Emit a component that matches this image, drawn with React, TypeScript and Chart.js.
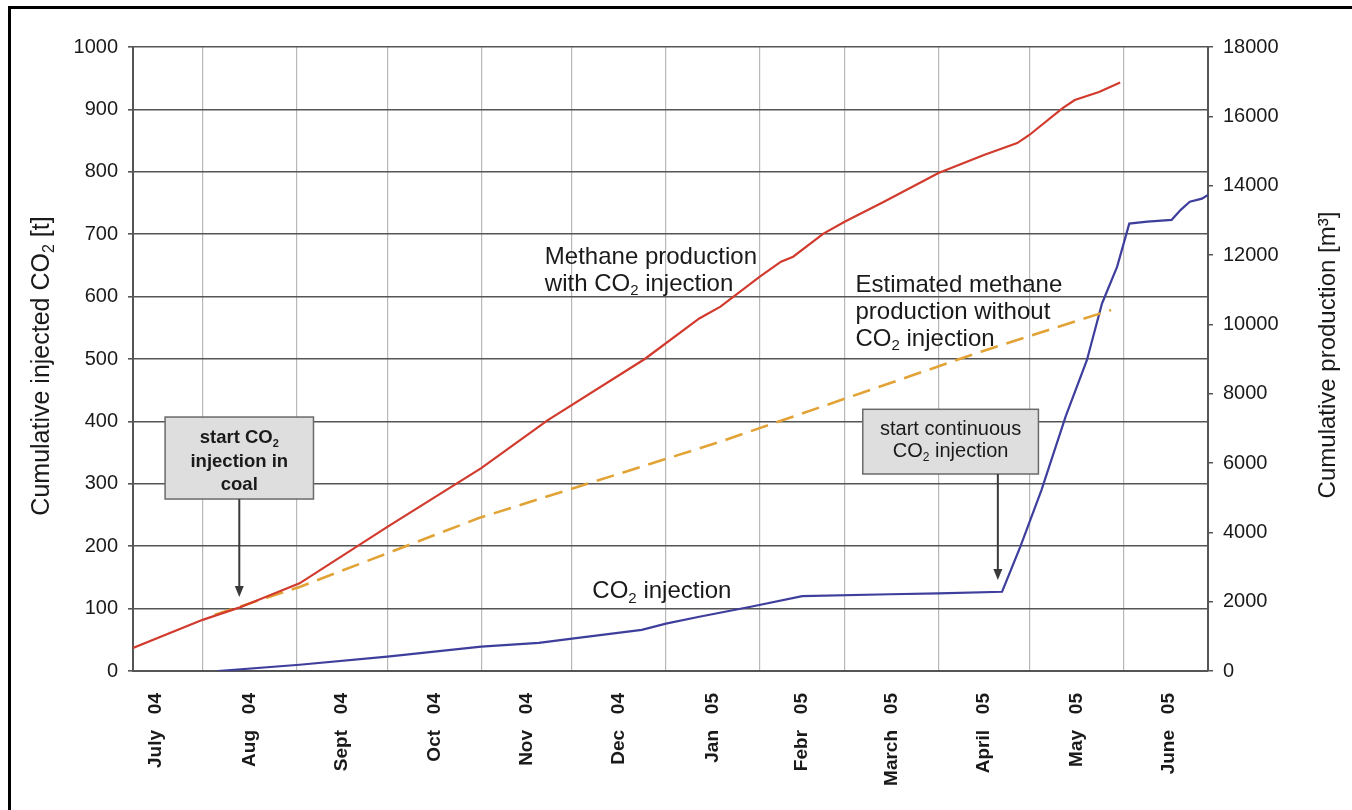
import React, { useEffect, useRef } from "react";
import { Chart, registerables } from "chart.js";

Chart.register(...registerables);

const FONT = '"Liberation Sans", Arial, Helvetica, sans-serif';

// x values are days counted from 1 July 2004
const monthStartDays = [0, 31, 62, 92, 123, 153, 184, 215, 243, 274, 304, 335, 365];
const monthNames = ["July", "Aug", "Sept", "Oct", "Nov", "Dec", "Jan", "Febr", "March", "April", "May", "June"];
const yearNames = ["04", "04", "04", "04", "04", "04", "05", "05", "05", "05", "05", "05"];
const xMinDay = 8;
const xMaxDay = 363;

const leftMax = 1000;
const leftStep = 100;
const rightMax = 18000;
const rightStep = 2000;

// Methane production with CO2 injection [m3] (right axis)
const methaneDays = [8, 31, 43, 63, 92, 123, 145, 177, 195, 202, 215, 222, 226, 236, 243, 256, 274, 289, 300, 304, 315, 319, 327, 334];
const methaneM3 = [666, 1476, 1827, 2529, 4158, 5850, 7236, 9000, 10170, 10510, 11376, 11808, 11952, 12618, 12960, 13536, 14364, 14886, 15228, 15462, 16236, 16470, 16704, 16974];

// Estimated methane production without CO2 injection [m3] (right axis)
const estimateDays = [35, 63, 122, 202, 288, 331];
const estimateM3 = [1620, 2423, 4405, 6615, 9211, 10413];

// Cumulative injected CO2 [t] (left axis)
const co2Days = [36, 63, 92, 123, 142, 153, 176, 184, 195, 212, 229, 258, 274, 295, 301, 308, 316, 323, 328, 333, 337, 343, 351, 354, 357, 361, 363];
const co2Tonnes = [0, 10, 23, 39, 45, 52, 66, 76, 87, 103, 120, 123, 124.5, 127, 199, 290, 408, 498, 589, 648, 717, 720, 723, 739, 752, 757, 763];

// annotation texts ({2} = subscript)
const textNotes = [
  { x: 144, y: 653, lines: ["Methane production", "with CO{2} injection"] },
  { x: 246.6, y: 608, lines: ["Estimated methane", "production without", "CO{2} injection"] },
  { x: 159.7, y: 117, lines: ["CO{2} injection"] },
];

const boxNotes = [
  { x1: 18.6, x2: 67.6, yTop: 407, yBottom: 275.6, arrowX: 43.1, arrowTip: 118.6, lines: ["start CO{2}", "injection in", "coal"], weight: "bold", size: 18.5, first: 26, gap: 23.5 },
  { x1: 249, x2: 307, yTop: 419.4, yBottom: 315.7, arrowX: 293.6, arrowTip: 145.8, lines: ["start continuous", "CO{2} injection"], weight: "normal", size: 20, first: 26, gap: 22 },
];

type Seg = { t: string; sub: boolean };
function parseRich(s: string): Seg[] {
  const parts = s.split(/\{(\d)\}/);
  return parts.map((t, i) => ({ t, sub: i % 2 === 1 })).filter((p) => p.t.length > 0);
}

function drawRich(ctx: CanvasRenderingContext2D, text: string, x: number, y: number, size: number, weight: string, align: "left" | "center") {
  const segs = parseRich(text);
  const base = `${weight} ${size}px ${FONT}`;
  const small = `${weight} ${Math.round(size * 0.62)}px ${FONT}`;
  const widths = segs.map((s) => {
    ctx.font = s.sub ? small : base;
    return ctx.measureText(s.t).width;
  });
  const total = widths.reduce((a, b) => a + b, 0);
  let cx = align === "center" ? x - total / 2 : x;
  ctx.textAlign = "left";
  ctx.textBaseline = "alphabetic";
  segs.forEach((s, i) => {
    ctx.font = s.sub ? small : base;
    ctx.fillText(s.t, cx, s.sub ? y + size * 0.2 : y);
    cx += widths[i];
  });
}

const tickLabelMap = new Map<number, string>();
const tickValues: number[] = [];
monthStartDays.forEach((d, i) => {
  if (d > xMinDay && d < xMaxDay + 0.5) tickValues.push(d);
  if (i < monthNames.length) {
    const mid = (d + monthStartDays[i + 1]) / 2;
    tickValues.push(mid);
    tickLabelMap.set(mid, `${monthNames[i]}   ${yearNames[i]}`);
  }
});
tickValues.sort((a, b) => a - b);

const annotationPlugin = {
  id: "annotations",
  beforeDraw(chart: any) {
    const ctx: CanvasRenderingContext2D = chart.ctx;
    ctx.save();
    ctx.fillStyle = "#ffffff";
    ctx.fillRect(0, 0, chart.width, chart.height);
    ctx.fillStyle = "#000000";
    ctx.fillRect(8, 6, chart.width, 3);
    ctx.fillRect(8, 6, 3, chart.height);
    ctx.restore();
  },
  afterDatasetsDraw(chart: any) {
    const ctx: CanvasRenderingContext2D = chart.ctx;
    const xs = chart.scales.x;
    const ys = chart.scales.y;
    const area = chart.chartArea;
    ctx.save();
    ctx.fillStyle = "#1a1a1a";
    textNotes.forEach((n) => {
      const px = xs.getPixelForValue(n.x);
      const py = ys.getPixelForValue(n.y);
      n.lines.forEach((l, i) => drawRich(ctx, l, px, py + i * 27, 24, "normal", "left"));
    });
    boxNotes.forEach((b) => {
      const left = xs.getPixelForValue(b.x1);
      const right = xs.getPixelForValue(b.x2);
      const top = ys.getPixelForValue(b.yTop);
      const bottom = ys.getPixelForValue(b.yBottom);
      ctx.fillStyle = "#dedede";
      ctx.fillRect(left, top, right - left, bottom - top);
      ctx.strokeStyle = "#6a6a6a";
      ctx.lineWidth = 1.5;
      ctx.strokeRect(left, top, right - left, bottom - top);
      ctx.fillStyle = "#1a1a1a";
      const cx = (left + right) / 2;
      b.lines.forEach((l, i) => drawRich(ctx, l, cx, top + b.first + i * b.gap, b.size, b.weight, "center"));
      const ax = xs.getPixelForValue(b.arrowX);
      const tip = ys.getPixelForValue(b.arrowTip);
      ctx.strokeStyle = "#3a3a3a";
      ctx.lineWidth = 2;
      ctx.beginPath();
      ctx.moveTo(ax, bottom);
      ctx.lineTo(ax, tip - 9);
      ctx.stroke();
      ctx.fillStyle = "#3a3a3a";
      ctx.beginPath();
      ctx.moveTo(ax - 4.5, tip - 11);
      ctx.lineTo(ax + 4.5, tip - 11);
      ctx.lineTo(ax, tip);
      ctx.closePath();
      ctx.fill();
    });
    // axis titles
    ctx.fillStyle = "#1a1a1a";
    ctx.save();
    ctx.translate(40, (area.top + area.bottom) / 2 + 7);
    ctx.rotate(-Math.PI / 2);
    drawRich(ctx, "Cumulative injected CO{2} [t]", 0, 9, 25, "normal", "center");
    ctx.restore();
    ctx.save();
    ctx.translate(1327, (area.top + area.bottom) / 2 - 4);
    ctx.rotate(-Math.PI / 2);
    drawRich(ctx, "Cumulative production [m\u00b3]", 0, 8, 24, "normal", "center");
    ctx.restore();
    ctx.restore();
  },
};

export default function App() {
  const ref = useRef<HTMLCanvasElement | null>(null);
  useEffect(() => {
    if (!ref.current) return;
    const tickFont = { family: FONT, size: 20 };
    const plain = (v: any) => String(v);
    const chart = new Chart(ref.current, {
      type: "line",
      data: {
        datasets: [
          {
            label: "Methane production with CO2 injection",
            data: methaneDays.map((d, i) => ({ x: d, y: methaneM3[i] })),
            yAxisID: "yR",
            borderColor: "#d13a2c",
            borderWidth: 2.2,
            pointRadius: 0,
            tension: 0,
          },
          {
            label: "Estimated methane production without CO2 injection",
            data: estimateDays.map((d, i) => ({ x: d, y: estimateM3[i] })),
            yAxisID: "yR",
            borderColor: "#e2a336",
            borderDash: [18, 9],
            borderWidth: 2.6,
            pointRadius: 0,
            tension: 0,
          },
          {
            label: "CO2 injection",
            data: co2Days.map((d, i) => ({ x: d, y: co2Tonnes[i] })),
            yAxisID: "y",
            borderColor: "#3e3e9c",
            borderWidth: 2.2,
            pointRadius: 0,
            tension: 0,
          },
        ],
      },
      options: {
        animation: false,
        responsive: false,
        layout: { padding: { top: 47, left: 0, right: 0, bottom: 0 } },
        plugins: { legend: { display: false }, tooltip: { enabled: false } },
        scales: {
          x: {
            type: "linear",
            min: xMinDay,
            max: xMaxDay,
            afterBuildTicks: (s: any) => {
              s.ticks = tickValues.map((v) => ({ value: v }));
            },
            afterFit: (s: any) => {
              s.height = 139;
            },
            grid: {
              color: (c: any) => (c.tick && tickLabelMap.has(c.tick.value) ? "rgba(0,0,0,0)" : "#b8b8b8"),
              lineWidth: 1.2,
              drawTicks: false,
            },
            border: { color: "#555555", width: 2 },
            ticks: {
              autoSkip: false,
              minRotation: 90,
              maxRotation: 90,
              padding: 22,
              color: "#1a1a1a",
              font: { family: FONT, size: 19, weight: "bold" },
              callback: (v: any) => tickLabelMap.get(Number(v)) ?? "",
            },
          },
          y: {
            position: "left",
            min: 0,
            max: leftMax,
            afterFit: (s: any) => {
              s.width = 133;
            },
            ticks: { stepSize: leftStep, padding: 10, color: "#1a1a1a", font: tickFont, callback: plain },
            grid: { color: "#555555", lineWidth: 1.6, tickLength: 5 },
            border: { color: "#555555", width: 2 },
          },
          yR: {
            position: "right",
            min: 0,
            max: rightMax,
            afterFit: (s: any) => {
              s.width = 144;
            },
            ticks: { stepSize: rightStep, padding: 10, color: "#1a1a1a", font: tickFont, callback: plain },
            grid: { drawOnChartArea: false, color: "#555555", lineWidth: 1.5, tickLength: 5 },
            border: { color: "#555555", width: 2 },
          },
        },
      },
      plugins: [annotationPlugin],
    } as any);
    return () => chart.destroy();
  }, []);
  return (
    <div style={{ position: "fixed", left: 0, top: 0, width: 1352, height: 810, overflow: "hidden", background: "#fff" }}>
      <canvas ref={ref} width={1352} height={810} style={{ display: "block", width: 1352, height: 810 }} />
    </div>
  );
}
